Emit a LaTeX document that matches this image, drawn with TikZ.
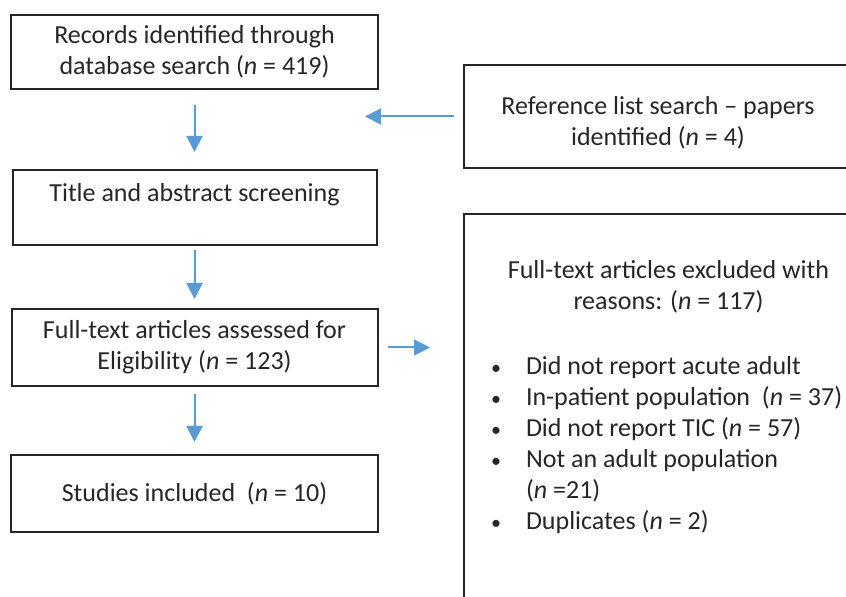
\documentclass[tikz,border=0pt]{standalone}
\usepackage{fontspec}
\setmainfont{Carlito}
\usetikzlibrary{arrows.meta}
\definecolor{arrowblue}{RGB}{91,155,213}
\newcommand{\exclitem}[1]{\makebox[16pt][l]{\hspace*{-1.5pt}\fontsize{10pt}{10pt}\selectfont\textbullet}#1}

\begin{document}
\begin{tikzpicture}
                [x=0.5pt, y=-0.5pt,
                bsty/.style={rectangle, draw=black!85, line width=1pt, align=center, inner sep=0pt, text=black!85, font=\fontsize{13pt}{15.5pt}\selectfont},
                asty/.style={-{Triangle[width=8pt, length=8pt]}, draw=arrowblue, fill=arrowblue, line width=1pt}]
                \useasboundingbox (0,0) rectangle (846,597);
                \clip (0,0) rectangle (846,597);
                % boxes
                \node[bsty, minimum width=183.5pt, minimum height=37pt] (rec) at (194.5,52) {Records identified through\\ database search (\textit{n} = 419)};
                \node[bsty, minimum width=182pt, minimum height=37.5pt] (title) at (194.5,207.5) {Title and abstract screening\\ \mbox{}};
                \node[bsty, minimum width=183pt, minimum height=38.5pt] (full) at (194.5,347.5) {Full-text articles assessed for\\ Eligibility (\textit{n} = 123)};
                \node[bsty, minimum width=183.5pt, minimum height=38.5pt] (incl) at (194.5,493.5) {Studies included~ (\textit{n} = 10)};
                \node[bsty, minimum width=194pt, minimum height=51.5pt] (ref) at (658,116.5) {\rule{0pt}{15.5pt}Reference list search -- papers\\ identified (\textit{n} = 4)};
                \node[bsty, anchor=north west] (excl) at (463,213) {\parbox[t][203.5pt][t]{204.5pt}{%
                  \vspace*{23pt}
                  {\centering Full-text articles excluded with\\ reasons: (\textit{n} = 117)\par}
                  \vspace{17pt}
                  {\raggedright\leftskip=15pt \baselineskip=15.5pt
                  \exclitem{Did not report acute adult}\\
                  \exclitem{In-patient population~ (\textit{n} = 37)}\\
                  \exclitem{Did not report TIC (\textit{n} = 57)}\\
                  \exclitem{Not an adult population}\\
                  \hspace*{16pt}(\textit{n} =21)\\
                  \exclitem{Duplicates (\textit{n} = 2)}\par}}};
                % free ends
                \coordinate (refend) at (365,116.5);
                \coordinate (exclend) at (430,347.5);
                % arrows
                \draw[asty, shorten <=7.5pt, shorten >=8.5pt] (rec.south) -- (title.north);
                \draw[asty, shorten <=2pt, shorten >=4.5pt] (title.south) -- (full.north);
                \draw[asty, shorten <=3.5pt, shorten >=6pt] (full.south) -- (incl.north);
                \draw[asty, shorten <=4.5pt] (ref.west) -- (refend);
                \draw[asty, shorten <=4.5pt] (full.east) -- (exclend);
            \end{tikzpicture}
\end{document}
